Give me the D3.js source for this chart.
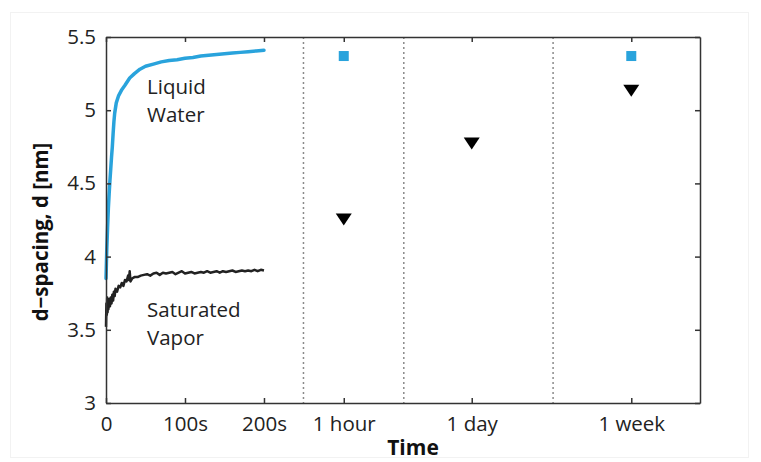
<html>
<head>
<title>d-spacing vs time</title>
<style>body{background-color:#ffffff; margin:0;} text{font-family:"Open Sans", "Noto Sans", sans-serif;}</style>
<script src="https://d3js.org/d3.v7.min.js" charset="utf-8"></script>
</head>
<body>
<div id="plotGraphDiv"></div>
<script type="text/javascript">

// time axis is piecewise: seconds up to 200s, then one slot per long-time measurement
var xTickValues = [0, 100, 200, 301, 463, 665];
var xTickLabels = ["0", "100s", "200s", "1 hour", "1 day", "1 week"];
var yTickValues = [3, 3.5, 4, 4.5, 5, 5.5];
var yTickLabels = ["3", "3.5", "4", "4.5", "5", "5.5"];
var dividerPositions = [250, 377, 566];

// liquid water run (seconds, nm)
var liquidTime = [0, 0.5, 1, 2, 3, 4, 5, 6, 7, 8, 9, 10, 11, 13, 16, 20, 24, 30, 36, 43, 50, 60, 70, 80, 90, 100, 110, 120, 130, 140, 150, 160, 170, 180, 190, 200];
var liquidD = [3.85, 3.95, 4.05, 4.2, 4.33, 4.43, 4.52, 4.6, 4.68, 4.75, 4.84, 4.92, 4.98, 5.05, 5.1, 5.14, 5.17, 5.22, 5.25, 5.28, 5.3, 5.315, 5.33, 5.34, 5.345, 5.355, 5.36, 5.37, 5.375, 5.38, 5.385, 5.39, 5.395, 5.4, 5.405, 5.41];

// saturated vapor run (seconds, nm)
var vaporTime = [0, 0.5, 1, 1.5, 2, 2.5, 3, 4, 5, 6, 7, 8, 9, 10, 11, 12, 14, 16, 18, 20, 22, 24, 26, 28, 29, 30, 31, 33, 36, 40, 44, 48, 52, 56, 60, 64, 68, 72, 76, 80, 84, 88, 92, 96, 100, 104, 108, 112, 116, 120, 124, 128, 132, 136, 140, 144, 148, 152, 156, 160, 164, 168, 172, 176, 180, 184, 188, 192, 196, 200];
var vaporD = [3.52, 3.68, 3.6, 3.72, 3.62, 3.7, 3.64, 3.71, 3.66, 3.72, 3.68, 3.74, 3.7, 3.76, 3.73, 3.78, 3.76, 3.8, 3.79, 3.82, 3.8, 3.84, 3.83, 3.87, 3.84, 3.9, 3.83, 3.85, 3.86, 3.86, 3.87, 3.875, 3.88, 3.87, 3.885, 3.89, 3.875, 3.89, 3.885, 3.89, 3.895, 3.88, 3.89, 3.9, 3.885, 3.89, 3.895, 3.885, 3.89, 3.895, 3.89, 3.9, 3.89, 3.895, 3.9, 3.89, 3.9, 3.895, 3.9, 3.905, 3.895, 3.9, 3.905, 3.9, 3.905, 3.9, 3.91, 3.9, 3.91, 3.905];

// long time points
var longPos = [301, 463, 665];
var waterLong = [5.37, null, 5.37];
var vaporLong = [4.26, 4.78, 5.14];

var margin = {top: 37, right: 61, bottom: 59, left: 106},
    width = 761 - margin.left - margin.right,
    height = 462 - margin.top - margin.bottom;

var blue = "#29a3dc";
var dark = "#222222";
var axisColor = "#333333";

var x = d3.scaleLinear().domain([0, 752]).range([0, width]);
var y = d3.scaleLinear().domain([3, 5.5]).range([height, 0]);

var root = d3.select("#plotGraphDiv").append("svg")
    .attr("width", 761)
    .attr("height", 462);

// faint frame round the figure
root.append("rect")
    .attr("x", 10.5).attr("y", 12.5)
    .attr("width", 738).attr("height", 445)
    .attr("fill", "none").attr("stroke", "#f2f2f2");

var svg = root.append("g")
    .attr("transform", "translate(" + margin.left + "," + margin.top + ")");

// dotted dividers
svg.selectAll(".divider")
    .data(dividerPositions)
    .enter()
    .append("line")
    .attr("class", "divider")
    .attr("x1", function(d) { return x(d); })
    .attr("x2", function(d) { return x(d); })
    .attr("y1", 0)
    .attr("y2", height)
    .attr("stroke", "#8a8a8a")
    .attr("stroke-width", 1.5)
    .attr("stroke-dasharray", "2,3");

// curves
var liquidLine = d3.line()
    .x(function(d, i) { return x(liquidTime[i]); })
    .y(function(d) { return y(d); });
var vaporLine = d3.line()
    .x(function(d, i) { return x(vaporTime[i]); })
    .y(function(d) { return y(d); });

svg.append("path")
    .datum(vaporD)
    .attr("d", vaporLine)
    .attr("fill", "none")
    .attr("stroke", dark)
    .attr("stroke-width", 2.5)
    .attr("stroke-linejoin", "round");

svg.append("path")
    .datum(liquidD)
    .attr("d", liquidLine)
    .attr("fill", "none")
    .attr("stroke", blue)
    .attr("stroke-width", 3.5)
    .attr("stroke-linejoin", "round")
    .attr("stroke-linecap", "round");

// long time markers
svg.selectAll(".sq")
    .data(longPos.filter(function(d, i) { return waterLong[i] != null; }).map(function(d) {
        return {p: d, v: waterLong[longPos.indexOf(d)]};
    }))
    .enter()
    .append("rect")
    .attr("class", "sq")
    .attr("x", function(d) { return x(d.p) - 5; })
    .attr("y", function(d) { return y(d.v) - 5; })
    .attr("width", 10)
    .attr("height", 10)
    .attr("fill", blue);

svg.selectAll(".tri")
    .data(vaporLong)
    .enter()
    .append("path")
    .attr("class", "tri")
    .attr("d", function(d, i) {
        var cx = x(longPos[i]), cy = y(d);
        return "M" + (cx - 8) + "," + (cy - 5) + "L" + (cx + 8) + "," + (cy - 5) + "L" + cx + "," + (cy + 7) + "Z";
    })
    .attr("fill", "#000");

// axes, MATLAB style ticks inside the box
var xAxis = svg.append("g")
    .attr("transform", "translate(0," + height + ")")
    .call(d3.axisBottom(x).tickValues(xTickValues).tickSizeInner(-5).tickSizeOuter(0)
        .tickFormat(function(d, i) { return xTickLabels[i]; }));
xAxis.selectAll("text").attr("dy", "1.2em");

svg.append("g")
    .call(d3.axisTop(x).tickValues(xTickValues).tickSizeInner(-5).tickSizeOuter(0).tickFormat(""));

var yAxis = svg.append("g")
    .call(d3.axisLeft(y).tickValues(yTickValues).tickSizeInner(-5).tickSizeOuter(0)
        .tickFormat(function(d, i) { return yTickLabels[i]; }));
yAxis.selectAll("text").attr("x", -10);

svg.append("g")
    .attr("transform", "translate(" + width + ",0)")
    .call(d3.axisRight(y).tickValues(yTickValues).tickSizeInner(-5).tickSizeOuter(0).tickFormat(""));

svg.selectAll(".domain").attr("stroke", axisColor).attr("stroke-width", 1.5);
svg.selectAll(".tick line").attr("stroke", axisColor).attr("stroke-width", 1.5);
svg.selectAll(".tick text").attr("font-size", "20.5px").attr("fill", "#222")
    .attr("font-family", "'Open Sans', sans-serif");

// annotations
var notes = [["Liquid", 147, 94], ["Water", 147, 122], ["Saturated", 147, 317], ["Vapor", 147, 345]];
root.selectAll(".note")
    .data(notes)
    .enter()
    .append("text")
    .attr("class", "note")
    .attr("x", function(d) { return d[1]; })
    .attr("y", function(d) { return d[2]; })
    .attr("font-size", "20.5px")
    .attr("fill", "#222")
    .text(function(d) { return d[0]; });

// axis titles
root.append("text")
    .attr("text-anchor", "middle")
    .attr("font-size", "21px")
    .attr("font-weight", "bold")
    .attr("fill", "#111")
    .attr("transform", "translate(413,455)")
    .text("Time");

root.append("text")
    .attr("text-anchor", "middle")
    .attr("font-size", "20.5px")
    .attr("font-weight", "bold")
    .attr("fill", "#111")
    .attr("transform", "translate(48,232) rotate(-90)")
    .text("d\u2212spacing, d [nm]");

</script>
</body>
</html>
